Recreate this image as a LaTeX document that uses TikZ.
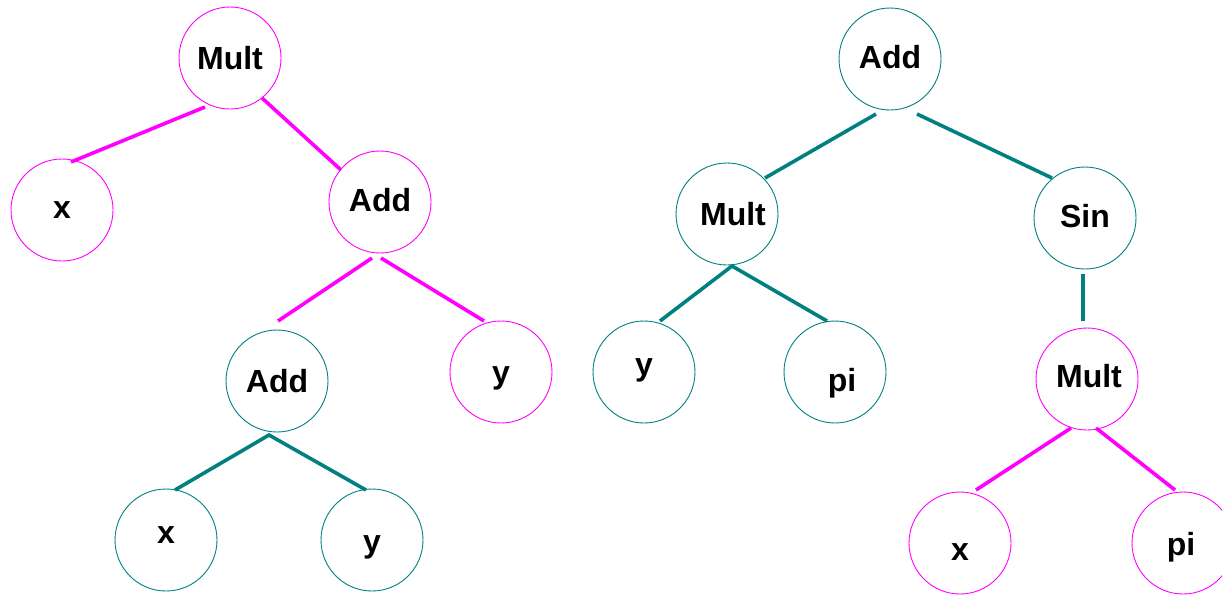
\documentclass[tikz,border=0pt]{standalone}
\usepackage{fontspec}
\setmainfont{Liberation Sans}
\usetikzlibrary{calc}
\definecolor{mg}{RGB}{255,0,255}
\definecolor{tl}{RGB}{0,128,128}
\tikzset{
  tnode/.style={circle, minimum size=102pt, inner sep=0pt, line width=0.9pt, font=\fontsize{32}{38}\selectfont\bfseries},
  magnode/.style={tnode, draw=mg},
  tealnode/.style={tnode, draw=tl},
  lab/.style={font=\fontsize{32}{38}\selectfont\bfseries, inner sep=0pt},
  magedge/.style={draw=mg, line width=3.6pt},
  tealedge/.style={draw=tl, line width=3.6pt}
}
\begin{document}
\begin{tikzpicture}[x=1pt,y=-1pt]
\useasboundingbox (0,0) rectangle (1222,595);
% left tree
\node[magnode] (L1) at (230,58) {Mult};
\node[magnode] (L2) at (62,210) {x};
\node[magnode, label={[lab,yshift=2pt]center:Add}] (L3) at (380,202) {};
\node[tealnode] (L4) at (277,381) {Add};
\node[magnode, label={[lab,yshift=-6pt]center:y}] (L5) at (501,372) {};
\node[tealnode, label={[lab,yshift=5pt]center:x}] (L6) at (166,540) {};
\node[tealnode, label={[lab,yshift=-7pt]center:y}] (L7) at (372,540) {};
% right tree
\node[tealnode, label={[lab,yshift=2pt]center:Add}] (R1) at (890,59) {};
\node[tealnode, label={[lab,xshift=6pt]center:Mult}] (R2) at (727,214) {};
\node[tealnode, label={[lab,yshift=2pt]center:Sin}] (R3) at (1085,218) {};
\node[tealnode, label={[lab,yshift=2pt]center:y}] (R4) at (644,372) {};
\node[tealnode, label={[lab,xshift=7pt,yshift=-11pt]center:pi}] (R5) at (835,372) {};
\node[magnode, label={[lab,xshift=2pt,yshift=3pt]center:Mult}] (R6) at (1087,379) {};
\node[magnode, label={[lab,yshift=-9pt]center:x}] (R7) at (960,543) {};
\node[magnode, label={[lab,xshift=-2pt,yshift=-4pt]center:pi}] (R8) at (1183,543) {};
% left edges
\draw[magedge] ($(L1)+(-25,49)$) -- ($(L2)+(9,-48)$);
\draw[magedge] ($(L1)+(32,40)$) -- ($(L3)+(-39,-32)$);
\draw[magedge] ($(L3)+(-8,56)$) -- ($(L4)+(1,-60)$);
\draw[magedge] ($(L3)+(1,56)$) -- ($(L5)+(-17,-51)$);
\draw[tealedge] ($(L6)+(9,-50)$) -- ($(L4)+(-8,54)$) -- ($(L7)+(-6,-50)$);
% right edges
\draw[tealedge] ($(R1)+(-14,55)$) -- ($(R2)+(38,-36)$);
\draw[tealedge] ($(R1)+(27,55)$) -- ($(R3)+(-33,-40)$);
\draw[tealedge] ($(R4)+(16,-51)$) -- ($(R2)+(5,52)$) -- ($(R5)+(-8,-51)$);
\draw[tealedge] ($(R3)+(-2,56)$) -- ($(R6)+(-4,-58)$);
\draw[magedge] ($(R6)+(-16,49)$) -- ($(R7)+(16,-53)$);
\draw[magedge] ($(R6)+(9,49)$) -- ($(R8)+(-8,-53)$);
\end{tikzpicture}
\end{document}
